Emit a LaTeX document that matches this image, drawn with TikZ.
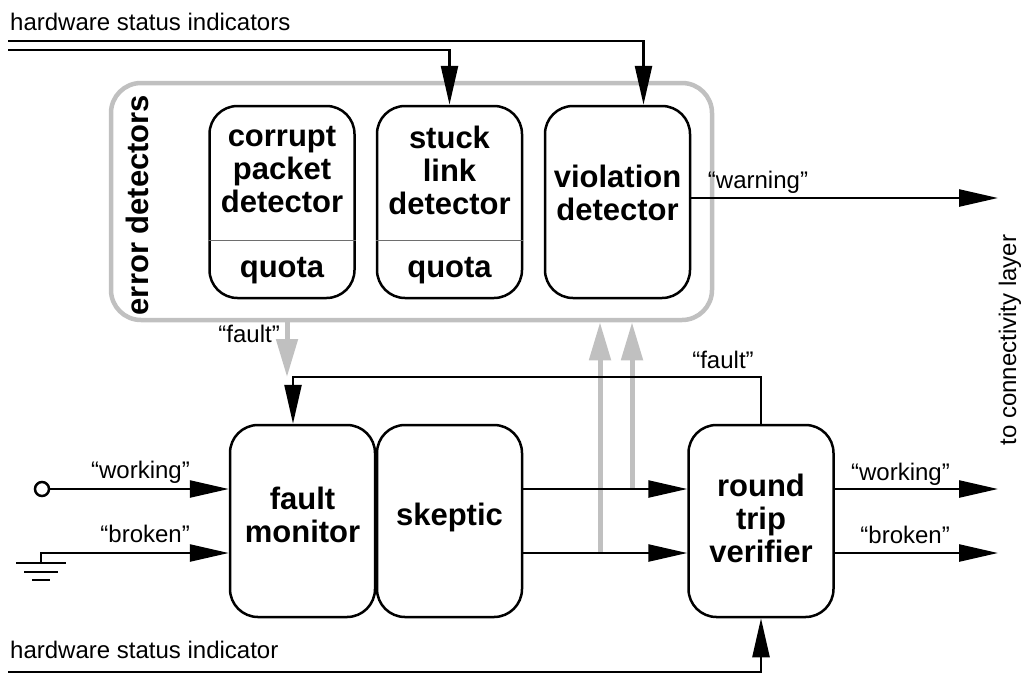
\documentclass[tikz,border=0pt]{standalone}
\usepackage{fontspec}
\setmainfont{Liberation Sans}
\usetikzlibrary{arrows.meta,calc}
\definecolor{boxgray}{RGB}{192,192,192}
\definecolor{sepgray}{RGB}{110,110,110}
\newcommand\boxfont{\fontsize{31}{33}\selectfont\bfseries}
\newcommand\lblfont{\fontsize{24}{27}\selectfont}
\begin{document}
\begin{tikzpicture}[x=1pt,y=-1pt,
  blk/.style={draw, line width=2.5pt, rounded corners=28pt, minimum width=145pt, minimum height=192pt, inner sep=0pt},
  errb/.style={draw=boxgray, line width=4.5pt, rounded corners=30pt, inner sep=0pt},
  bt/.style={align=center, font=\boxfont, inner sep=0pt},
  lbl/.style={font=\lblfont, inner sep=0pt},
  wire/.style={line width=2.5pt},
  arr/.style={line width=2.5pt, -{Triangle[length=39pt,width=17pt]}},
  garr/.style={line width=5pt, draw=boxgray, -{Triangle[length=38pt,width=21pt]}},
  sep/.style={draw=sepgray, line width=1pt}]
\useasboundingbox (0,0) rectangle (1028,673);

% boxes
\node[errb, minimum width=601pt, minimum height=237pt] (errbox) at (411.5,201.5) {};
\node[blk] (corrupt) at (282,202) {};
\node[blk] (stuck) at (449.5,202) {};
\node[blk] (viol) at (617.5,202) {};
\node[blk] (fm) at (302.5,521) {};
\node[blk] (sk) at (449.5,521) {};
\node[blk] (rtv) at (761,521) {};

% separators
\draw[sep] ([yshift=-38pt]corrupt.west) -- ([yshift=-38pt]corrupt.east);
\draw[sep] ([yshift=-38pt]stuck.west) -- ([yshift=-38pt]stuck.east);

% box texts
\node[bt] (corruptT) at (282,170) {corrupt\\packet\\detector};
\node[bt, anchor=base] (corruptQ) at (282,277) {quota};
\node[bt] (stuckT) at (449.5,170) {stuck\\link\\detector};
\node[bt, anchor=base] (stuckQ) at (449.5,277) {quota};
\node[bt] (violT) at (617.5,193) {violation\\detector};
\node[bt] (fmT) at (302.5,515) {fault\\monitor};
\node[bt] (skT) at (449.5,517) {skeptic};
\node[bt] (rtvT) at (761,518) {round\\trip\\verifier};
\node[bt, rotate=90] (errT) at (137,205) {error detectors};

% labels
\node[lbl, anchor=base west] (hsT) at (10,30) {hardware status indicators};
\node[lbl, anchor=base west] (hsbT) at (10,658) {hardware status indicator};
\node[lbl, anchor=base east] (inW) at (190,478) {“working”};
\node[lbl, anchor=base east] (inB) at (190,542) {“broken”};
\node[lbl, anchor=base east] (outW) at (950,480) {“working”};
\node[lbl, anchor=base east] (outB) at (950,543) {“broken”};
\node[lbl, anchor=base] (warnT) at (758,188) {“warning”};
\node[lbl, anchor=base] (faultT) at (723,368) {“fault”};
\node[lbl, anchor=base east] (gfaultT) at (280,342) {“fault”};
\node[lbl, rotate=90] (connT) at (1010,340) {to connectivity layer};

% coordinates
\coordinate (hs1) at (8,41);
\coordinate (hs2) at (8,50);
\coordinate (hsb) at (8,672);
\coordinate (warnE) at (998,198);
\coordinate (outWE) at (998,489);
\coordinate (outBE) at (998,553);
\coordinate (fj) at (293,377);
\coordinate (gx) at (287,0);
\coordinate (g1) at (600,553);
\coordinate (g2) at (632,489);
\coordinate (gnd) at (41,563);
\node[draw, circle, line width=2.5pt, minimum size=14pt, inner sep=0pt] (src) at (42,489) {};

% top status lines
\draw[arr] (hs1) -| ([xshift=26pt]viol.north);
\draw[arr] (hs2) -| (stuck.north);
\draw[arr] ([yshift=4pt]viol.east) -- (warnE);

% gray connectors
\draw[garr] (errbox.south -| gx) -- (gx |- fj);
\draw[garr] (g1) -- (g1 |- errbox.south);
\draw[garr] (g2) -- (g2 |- errbox.south);

% inputs
\draw[arr] (src) -- ([yshift=32pt]fm.west);
\draw[arr] (gnd) |- ([yshift=-32pt]fm.west);
\draw[wire] (16,563) -- (66,563);
\draw[wire] (24,572) -- (58,572);
\draw[wire] (32,580) -- (50,580);

% skeptic to verifier
\draw[arr] ([yshift=32pt]sk.east) -- ([yshift=32pt]rtv.west);
\draw[arr] ([yshift=-32pt]sk.east) -- ([yshift=-32pt]rtv.west);

% outputs
\draw[arr] ([yshift=32pt]rtv.east) -- (outWE);
\draw[arr] ([yshift=-32pt]rtv.east) -- (outBE);

% fault feedback
\draw[arr] (rtv.north) |- (fj) -- (fj |- fm.north);

% bottom status line
\draw[arr] (hsb) -| (rtv.south);
\end{tikzpicture}
\end{document}
